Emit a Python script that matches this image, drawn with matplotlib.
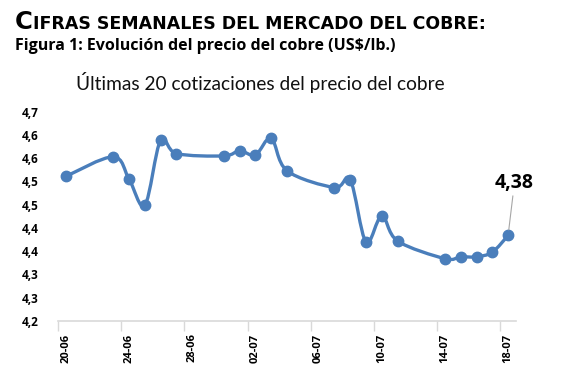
import pandas as pd
import matplotlib
matplotlib.use("Agg")
import matplotlib.pyplot as plt
import matplotlib.dates as mdates
from matplotlib.path import Path
from matplotlib.patches import PathPatch

# datos
fechas = ["2025-06-20", "2025-06-23", "2025-06-24", "2025-06-25", "2025-06-26",
          "2025-06-27", "2025-06-30", "2025-07-01", "2025-07-02", "2025-07-03",
          "2025-07-04", "2025-07-07", "2025-07-08", "2025-07-09", "2025-07-10",
          "2025-07-11", "2025-07-14", "2025-07-15", "2025-07-16", "2025-07-17",
          "2025-07-18"]
precios = [4.511, 4.553, 4.505, 4.449, 4.589, 4.560, 4.555, 4.566, 4.557, 4.593,
           4.523, 4.487, 4.504, 4.370, 4.426, 4.372, 4.334, 4.338, 4.338, 4.348,
           4.384]

y_ticks = [4.20, 4.25, 4.30, 4.35, 4.40, 4.45, 4.50, 4.55, 4.60, 4.65]
y_labels = ["4,2", "4,3", "4,3", "4,4", "4,4", "4,5", "4,5", "4,6", "4,6", "4,7"]
x_label_fechas = ["2025-06-20", "2025-06-24", "2025-06-28", "2025-07-02",
                  "2025-07-06", "2025-07-10", "2025-07-14", "2025-07-18"]
x_labels = ["20-06", "24-06", "28-06", "02-07", "06-07", "10-07", "14-07", "18-07"]

azul = "#4a7ebb"
fuente = "Lato"

x = mdates.date2num(pd.to_datetime(fechas))
y = precios

fig = plt.figure(figsize=(5.71, 3.79), dpi=100)
ax = fig.add_axes([58 / 571, 1 - 321 / 379, 458 / 571, 209.3 / 379])

# linea suavizada (estilo Excel)
n = len(x)
verts = [(x[0], y[0])]
codes = [Path.MOVETO]
for i in range(n - 1):
    i0 = max(i - 1, 0)
    i3 = min(i + 2, n - 1)
    c1x = min(x[i] + (x[i + 1] - x[i0]) / 6, x[i + 1])
    c2x = max(x[i + 1] - (x[i3] - x[i]) / 6, x[i])
    c1 = (c1x, y[i] + (y[i + 1] - y[i0]) / 6)
    c2 = (c2x, y[i + 1] - (y[i3] - y[i]) / 6)
    verts += [c1, c2, (x[i + 1], y[i + 1])]
    codes += [Path.CURVE4] * 3
ax.add_patch(PathPatch(Path(verts, codes), fill=False, edgecolor=azul,
                       linewidth=2.4, capstyle="round", joinstyle="round"))
ax.plot(x, y, "o", color=azul, markersize=7.5, zorder=3)

ax.set_xlim(x[0] - 0.5, x[-1] + 0.5)
ax.set_ylim(4.20, 4.65)

ax.set_yticks(y_ticks)
ax.set_yticklabels(y_labels, fontsize=8.5, fontweight="bold", family="Open Sans")
ax.tick_params(axis="y", length=0, pad=14)

xt = mdates.date2num(pd.to_datetime(x_label_fechas))
ax.set_xticks(xt)
ax.set_xticklabels(x_labels, rotation=90, fontsize=8, fontweight="bold",
                   family="Open Sans")
ax.set_xticks(xt - 0.5, minor=True)
ax.tick_params(axis="x", which="major", length=0, pad=9)
ax.tick_params(axis="x", which="minor", length=7, color="#d9d9d9", width=1)

for s in ["top", "right", "left"]:
    ax.spines[s].set_visible(False)
ax.spines["bottom"].set_color("#d9d9d9")
ax.spines["bottom"].set_linewidth(1.2)

# etiqueta del ultimo valor
etiqueta = f"{precios[-1]:.2f}".replace(".", ",")
ax.annotate(etiqueta, xy=(x[-1], y[-1]), xytext=(x[-1] + 0.4, 4.475),
            ha="center", va="bottom", fontsize=14, fontweight="bold",
            family="Open Sans",
            arrowprops=dict(arrowstyle="-", color="#a6a6a6", lw=0.8, shrinkA=0, shrinkB=4),
            annotation_clip=False)

fig.text(260 / 571, 1 - 90 / 379, "Últimas 20 cotizaciones del precio del cobre",
         ha="center", va="baseline", fontsize=13.8, family=fuente, color="#111111")

t1 = fig.text(15 / 571, 1 - 29 / 379, "C", fontsize=17.5, fontweight="bold",
              family="DejaVu Sans", va="baseline")
ax.annotate("IFRAS SEMANALES DEL MERCADO DEL COBRE:", xy=(1, 0), xycoords=t1,
            xytext=(0, 0.9), textcoords="offset points",
            va="bottom", fontsize=12.5, fontweight="bold", family="DejaVu Sans",
            annotation_clip=False)
fig.text(15 / 571, 1 - 50 / 379, "Figura 1: Evolución del precio del cobre (US$/lb.)",
         va="baseline", fontsize=11.5, fontweight="bold", family="Open Sans")

fig.savefig("out.png", dpi=100)
plt.close()
